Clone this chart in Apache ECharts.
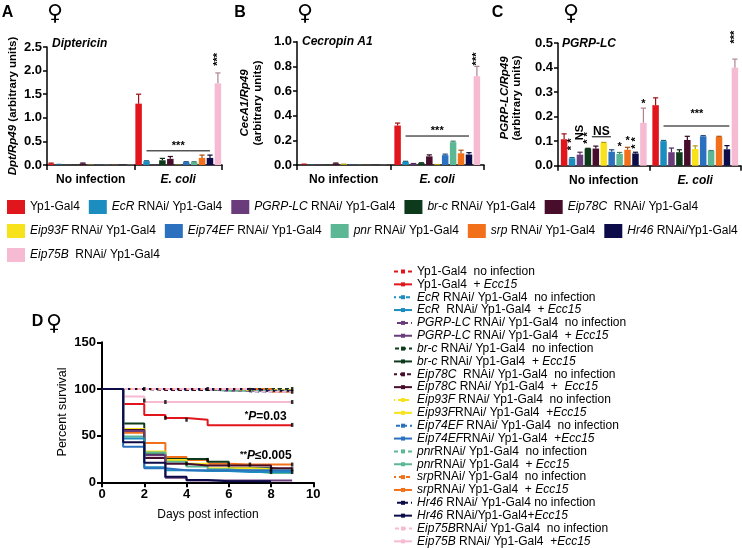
<!DOCTYPE html>
<html><head><meta charset="utf-8">
<script src="https://cdn.jsdelivr.net/npm/echarts@6.0.0/dist/echarts.min.js"></script>
<style>html,body{margin:0;padding:0;background:#fff;}#chart{width:742px;height:548px;}</style>
</head><body><div id="chart"></div>
<script>
// ================= DATA =================
const groups = ['No infection', 'E. coli'];
const genotypes = ['Yp1-Gal4','EcR RNAi/ Yp1-Gal4','PGRP-LC RNAi/ Yp1-Gal4','br-c RNAi/ Yp1-Gal4','Eip78C RNAi/ Yp1-Gal4','Eip93F RNAi/ Yp1-Gal4','Eip74EF RNAi/ Yp1-Gal4','pnr RNAi/ Yp1-Gal4','srp RNAi/ Yp1-Gal4','Hr46 RNAi/Yp1-Gal4','Eip75B RNAi/ Yp1-Gal4'];
const genotypeLabels = ['Yp1-Gal4','{i|EcR} RNAi/ Yp1-Gal4','{i|PGRP-LC} RNAi/ Yp1-Gal4','{i|br-c} RNAi/ Yp1-Gal4','{i|Eip78C}  RNAi/ Yp1-Gal4','{i|Eip93F} RNAi/ Yp1-Gal4','{i|Eip74EF} RNAi/ Yp1-Gal4','{i|pnr} RNAi/ Yp1-Gal4','{i|srp} RNAi/ Yp1-Gal4','{i|Hr46} RNAi/Yp1-Gal4','{i|Eip75B}  RNAi/ Yp1-Gal4'];
const colors = ['#e1161c','#1c8dbf','#6a3c7c','#0d3a1b','#470d2b','#f7e21b','#2b71bf','#5cb794','#f3701a','#0c0c4a','#f6bbd2'];

// Panel A: Diptericin (Dpt/Rp49)
const dptNoInf    = [0.03,0.01,0.005,0.005,0.03,0.005,0.005,0.005,0.005,0.005,0.005];
const dptNoInfErr = [0.01,0.003,0,0,0.012,0,0,0,0,0,0];
const dptEcoli    = [1.30,0.08,0.005,0.10,0.13,0.005,0.06,0.06,0.15,0.15,1.73];
const dptEcoliErr = [0.20,0.01,0,0.04,0.05,0,0.01,0.01,0.06,0.06,0.22];
// Panel B: Cecropin A1 (CecA1/Rp49)
const cecNoInf    = [0.005,0.002,0.002,0.002,0.012,0.005,0.003,0.002,0.001,0.001,0.001];
const cecNoInfErr = [0.002,0,0,0,0.004,0.002,0,0,0,0,0];
const cecEcoli    = [0.32,0.025,0.01,0.015,0.07,0.003,0.08,0.185,0.095,0.085,0.72];
const cecEcoliErr = [0.02,0.005,0.002,0.003,0.012,0.001,0.008,0.008,0.025,0.015,0.08];
// Panel C: PGRP-LC (PGRP-LC/Rp49)
const pgrpNoInf    = [0.108,0.03,0.045,0.07,0.07,0.093,0.057,0.048,0.065,0.05,0.175];
const pgrpNoInfErr = [0.022,0.003,0.01,0.001,0.01,0.002,0.008,0.006,0.01,0.005,0.06];
const pgrpEcoli    = [0.247,0.10,0.055,0.055,0.105,0.068,0.12,0.06,0.118,0.067,0.40];
const pgrpEcoliErr = [0.03,0.003,0.017,0.01,0.015,0.013,0.003,0.002,0.002,0.015,0.035];

// Panel D: survival (percent) at days 0..9
const survDays = [0,1,2,3,4,5,6,7,8,9];
const survNoInf = [
  [100,100,100,100,100,100,100,100,98,98],
  [100,100,100,99,99,99,99,99,99,99],
  [100,100,100,100,100,98,98,98,98,98],
  [100,100,100,100,100,100,100,100,100,100],
  [100,100,99,99,99,99,99,99,99,99],
  [100,100,100,100,100,100,99,99,99,99],
  [100,100,100,100,100,100,100,97,97,97],
  [100,100,100,100,100,98,98,98,98,98],
  [100,100,100,100,100,100,100,100,97,97],
  [100,100,100,100,100,100,100,98,98,98],
  [100,100,100,100,100,100,100,97,97,96]
];
const survInf = [
  [100,84,72,69,67,61,61,61,61,61],
  [100,47,16,13,12,12,11,11,11,11],
  [100,55,29,5,2,2,2,2,2,2],
  [100,63,30,25,25,22,15,15,13,13],
  [100,56,26,20,18,18,18,18,15,15],
  [100,57,33,24,20,15,15,14,14,14],
  [100,38,15,13,13,13,13,13,13,13],
  [100,49,32,22,17,14,12,10,10,10],
  [100,53,42,27,24,20,19,19,19,19],
  [100,43,21,6,2.5,1,1,1,1,null],
  [100,92,86,86,86,86,86,86,86,86]
];
const survLabels = [
  'Yp1-Gal4  no infection','Yp1-Gal4  + {i|Ecc15}',
  '{i|EcR} RNAi/ Yp1-Gal4  no infection','{i|EcR}  RNAi/ Yp1-Gal4  + {i|Ecc15}',
  '{i|PGRP-LC} RNAi/ Yp1-Gal4  no infection','{i|PGRP-LC} RNAi/ Yp1-Gal4  + {i|Ecc15}',
  '{i|br-c} RNAi/ Yp1-Gal4  no infection','{i|br-c} RNAi/ Yp1-Gal4  + {i|Ecc15}',
  '{i|Eip78C}  RNAi/ Yp1-Gal4  no infection','{i|Eip78C} RNAi/ Yp1-Gal4  +  {i|Ecc15}',
  '{i|Eip93F} RNAi/ Yp1-Gal4  no infection','{i|Eip93F}RNAi/ Yp1-Gal4  +{i|Ecc15}',
  '{i|Eip74EF} RNAi/ Yp1-Gal4  no infection','{i|Eip74EF}RNAi/ Yp1-Gal4  +{i|Ecc15}',
  '{i|pnr}RNAi/ Yp1-Gal4  no infection','{i|pnr}RNAi/ Yp1-Gal4  + {i|Ecc15}',
  '{i|srp}RNAi/ Yp1-Gal4  no infection','{i|srp}RNAi/ Yp1-Gal4  + {i|Ecc15}',
  '{i|Hr46} RNAi/ Yp1-Gal4 no infection','{i|Hr46} RNAi/Yp1-Gal4+{i|Ecc15}',
  '{i|Eip75B}RNAi/ Yp1-Gal4  no infection','{i|Eip75B} RNAi/ Yp1-Gal4  +{i|Ecc15}'
];
const censorPts = [[2,87.5],[3,86],[9,86],[3,69],[4,67],[9,61.5],[2,100],[5,100],[7,99],[9,100],[9,97],[9,19],[7,19],[6,19],[8,14],[8,11],[9,14],[9,11],[4,20],[5,24]];

// ================= HELPERS =================
const FONT = "'Liberation Sans', Arial, Helvetica, sans-serif";
const BW = 6.5, GAP = 0.22, PITCH = BW * (1 + GAP);
function darken(hex, f) {
  const n = parseInt(hex.slice(1), 16);
  const r = Math.round(((n >> 16) & 255) * f), g = Math.round(((n >> 8) & 255) * f), b = Math.round((n & 255) * f);
  return 'rgb(' + r + ',' + g + ',' + b + ')';
}
const richI = { i: { fontStyle: 'italic', fontSize: 12, fontFamily: FONT, color: '#000', lineHeight: 12 } };

const panels = [
  { grid: { left: 47, top: 47, width: 175, height: 118 }, max: 2.5, interval: 0.5,
    vals: [dptNoInf, dptEcoli], errs: [dptNoInfErr, dptEcoliErr],
    ann: [
      { t: 'line', g: 1, b1: 1, b2: 9, v: 0.30 },
      { t: 'text', g: 1, b: 5, v: 0.40, text: '***' },
      { t: 'text', g: 1, b: 10, v: 2.24, text: '***', rot: true }
    ] },
  { grid: { left: 297, top: 41.7, width: 187, height: 123.3 }, max: 1.0, interval: 0.2,
    vals: [cecNoInf, cecEcoli], errs: [cecNoInfErr, cecEcoliErr],
    ann: [
      { t: 'line', g: 1, b1: 1, b2: 9, v: 0.235 },
      { t: 'text', g: 1, b: 5, v: 0.275, text: '***' },
      { t: 'text', g: 1, b: 10, v: 0.86, text: '***', rot: true }
    ] },
  { grid: { left: 558, top: 43.2, width: 183, height: 122.5 }, max: 0.5, interval: 0.1,
    vals: [pgrpNoInf, pgrpEcoli], errs: [pgrpNoInfErr, pgrpEcoliErr],
    ann: [
      { t: 'line', g: 1, b1: 1, b2: 9.3, v: 0.162 },
      { t: 'text', g: 1, b: 5.2, v: 0.21, text: '***' },
      { t: 'text', g: 1, b: 10, v: 0.525, text: '***', rot: true },
      { t: 'text', g: 0, b: 1, v: 0.087, text: '* *', rot: true },
      { t: 'text', g: 0, b: 2, v: 0.135, text: 'NS', rot: true, font: 'bold 11px ' + FONT },
      { t: 'text', g: 0, b: 3, v: 0.113, text: '* *', rot: true },
      { t: 'line', g: 0, b1: 3.5, b2: 5.9, v: 0.118 },
      { t: 'text', g: 0, b: 4.7, v: 0.14, text: 'NS', font: 'bold 12px ' + FONT },
      { t: 'text', g: 0, b: 7, v: 0.075, text: '*' },
      { t: 'text', g: 0, b: 8, v: 0.1, text: '*' },
      { t: 'text', g: 0, b: 9, v: 0.093, text: '* *', rot: true },
      { t: 'text', g: 0, b: 10, v: 0.25, text: '*' }
    ] }
];

function annRender(list) {
  return function (params, api) {
    const children = [];
    list.forEach(a => {
      const base = api.coord([a.g, a.v]);
      if (a.t === 'line') {
        children.push({ type: 'line', shape: { x1: base[0] + (a.b1 - 5) * PITCH, y1: base[1], x2: base[0] + (a.b2 - 5) * PITCH, y2: base[1] },
          style: { stroke: '#000', lineWidth: 1 } });
      } else {
        children.push({ type: 'text', x: base[0] + (a.b - 5) * PITCH, y: base[1], rotation: a.rot ? Math.PI / 2 : 0,
          style: { text: a.text, fill: '#000', font: a.font || 'bold 11px ' + FONT, align: 'center', verticalAlign: 'middle' } });
      }
    });
    return { type: 'group', children };
  };
}

function errRender(params, api) {
  const g = api.value(0), i = api.value(1), v = api.value(2), e = api.value(3);
  if (!(e > 0)) return null;
  const b = api.coord([g, v]), t = api.coord([g, v + e]);
  const x = b[0] + (i - 5) * PITCH;
  const c = darken(colors[i], 0.7);
  return { type: 'group', children: [
    { type: 'line', shape: { x1: x, y1: b[1], x2: x, y2: t[1] }, style: { stroke: c, lineWidth: 1.2 } },
    { type: 'line', shape: { x1: x - 2.6, y1: t[1], x2: x + 2.6, y2: t[1] }, style: { stroke: c, lineWidth: 1.2 } }
  ] };
}

// ================= OPTION =================
const grid = [], xAxis = [], yAxis = [], series = [];
panels.forEach((p, k) => {
  grid.push(Object.assign({ outerBoundsMode: 'none', containLabel: false }, p.grid));
  xAxis.push({ type: 'category', gridIndex: k, data: groups, boundaryGap: true,
    axisLine: { show: true, lineStyle: { color: '#000', width: 1.5 } },
    axisTick: { show: true, length: 5, inside: false, alignWithLabel: false, lineStyle: { color: '#000', width: 1.5 } },
    axisLabel: { color: '#000', fontSize: 12, fontWeight: 'bold', fontFamily: FONT, margin: 9, interval: 0,
      formatter: v => v === 'E. coli' ? '{e|E. coli}' : v,
      rich: { e: { fontStyle: 'italic', fontWeight: 'bold', fontSize: 12, fontFamily: FONT, color: '#000' } } },
    splitLine: { show: false } });
  yAxis.push({ type: 'value', gridIndex: k, min: 0, max: p.max, interval: p.interval,
    axisLine: { show: true, lineStyle: { color: '#000', width: 1.5 } },
    axisTick: { show: true, length: 4, lineStyle: { color: '#000', width: 1.5 } },
    axisLabel: { color: '#000', fontSize: 13, fontWeight: 'bold', fontFamily: FONT, margin: 5, formatter: v => v.toFixed(1) },
    splitLine: { show: false } });
  genotypes.forEach((name, i) => {
    series.push({ type: 'bar', name, xAxisIndex: k, yAxisIndex: k, barWidth: BW, barGap: (GAP * 100) + '%',
      itemStyle: { color: colors[i] }, data: [p.vals[0][i], p.vals[1][i]], silent: true, animation: false });
  });
  const errData = [];
  [0, 1].forEach(g => genotypes.forEach((n, i) => errData.push([g, i, p.vals[g][i], p.errs[g][i]])));
  series.push({ type: 'custom', xAxisIndex: k, yAxisIndex: k, data: errData, encode: { x: 0, y: 2 }, renderItem: errRender, silent: true, z: 5, animation: false });
  series.push({ type: 'custom', xAxisIndex: k, yAxisIndex: k, data: [[0, 0]], encode: { x: 0, y: 1 }, renderItem: annRender(p.ann), silent: true, z: 6, clip: false, animation: false });
});

// survival grid
const SG = 3;
grid.push({ left: 102, top: 342.3, width: 211.3, height: 140, outerBoundsMode: 'none', containLabel: false });
xAxis.push({ type: 'value', gridIndex: SG, min: 0, max: 10, interval: 2,
  axisLine: { show: true, lineStyle: { color: '#000', width: 2 } },
  axisTick: { show: true, length: 5, lineStyle: { color: '#000', width: 2 } },
  axisLabel: { color: '#000', fontSize: 13, fontWeight: 'bold', fontFamily: FONT, margin: 6 },
  splitLine: { show: false } });
yAxis.push({ type: 'value', gridIndex: SG, min: 0, max: 150, interval: 50,
  axisLine: { show: true, lineStyle: { color: '#000', width: 2 } },
  axisTick: { show: true, length: 5, lineStyle: { color: '#000', width: 2 } },
  axisLabel: { color: '#000', fontSize: 13, fontWeight: 'bold', fontFamily: FONT, margin: 6 },
  splitLine: { show: false } });

const survNames = [];
genotypes.forEach((g, i) => { survNames.push('ni_' + i); survNames.push('inf_' + i); });
const survLabelMap = {};
survNames.forEach((n, k) => survLabelMap[n] = survLabels[k]);

// no-infection dashed lines first
genotypes.forEach((g, i) => {
  series.push({ type: 'line', name: 'ni_' + i, xAxisIndex: SG, yAxisIndex: SG, step: 'end', showSymbol: false,
    symbol: 'rect', symbolSize: 3, color: colors[i],
    lineStyle: { color: colors[i], width: 2, type: [4, 3], dashOffset: i * 2 },
    data: survDays.map((d, j) => [d, survNoInf[i][j]]), silent: true, animation: false, z: 2 });
});
// infected solid lines (Hr46 drawn last)
const infOrder = [10, 0, 8, 3, 5, 7, 4, 2, 1, 6, 9];
infOrder.forEach((i, o) => {
  series.push({ type: 'line', name: 'inf_' + i, xAxisIndex: SG, yAxisIndex: SG, step: 'end', showSymbol: false,
    symbol: 'rect', symbolSize: 3, color: colors[i],
    lineStyle: { color: colors[i], width: 2, type: 'solid' },
    data: survDays.map((d, j) => [d, survInf[i][j]]).filter(p => p[1] !== null), silent: true, animation: false, z: 3 + o * 0.01 });
});
series.push({ type: 'scatter', xAxisIndex: SG, yAxisIndex: SG, symbol: 'rect', symbolSize: [2.5, 4], itemStyle: { color: '#000' },
  data: censorPts, silent: true, animation: false, z: 4 });
series.push({ type: 'custom', xAxisIndex: SG, yAxisIndex: SG, data: [[0, 0]], silent: true, z: 6, animation: false,
  renderItem: function (params, api) {
    const p1 = api.coord([7.75, 70.5]), p2 = api.coord([7.75, 28.5]);
    const rich = { s: { fontSize: 9, fontWeight: 'bold', fontFamily: FONT, verticalAlign: 'top' }, i: { fontStyle: 'italic', fontWeight: 'bold', fontSize: 12, fontFamily: FONT } };
    return { type: 'group', children: [
      { type: 'text', x: p1[0], y: p1[1], style: { text: '{s|*}{i|P}=0.03', rich, fill: '#000', font: 'bold 12px ' + FONT, align: 'center', verticalAlign: 'middle' } },
      { type: 'text', x: p2[0], y: p2[1], style: { text: '{s|**}{i|P}≤0.005', rich, fill: '#000', font: 'bold 12px ' + FONT, align: 'center', verticalAlign: 'middle' } }
    ] };
  } });

const barLabelMap = {};
genotypes.forEach((n, i) => barLabelMap[n] = genotypeLabels[i]);
function barLegend(names, top) {
  return { show: true, left: 7, top, orient: 'horizontal', itemWidth: 18, itemHeight: 14, itemGap: 9, icon: 'rect',
    selectedMode: false, data: names, padding: 0,
    formatter: n => barLabelMap[n],
    textStyle: { color: '#000', fontSize: 12, fontFamily: FONT, padding: [0, 0, 0, 0], rich: richI } };
}

const legend = [
  barLegend(genotypes.slice(0, 5), 200),
  barLegend(genotypes.slice(5, 10), 224),
  barLegend(genotypes.slice(10), 248),
  { show: true, left: 393, top: 265.5, orient: 'vertical', itemWidth: 18, itemHeight: 5, itemGap: 0.85, padding: 0,
    selectedMode: false, data: survNames, formatter: n => survLabelMap[n],
    textStyle: { color: '#000', fontSize: 12, lineHeight: 12, fontFamily: FONT, rich: richI } }
];

function txt(x, y, text, font, opts) {
  return Object.assign({ type: 'text', x, y, style: Object.assign({ text, font, fill: '#000', align: 'center', verticalAlign: 'middle' }, (opts && opts.style) || {}) }, (opts && opts.el) || {});
}
const rot = { el: { rotation: Math.PI / 2 } };
const titleRich = { it: { fontStyle: 'italic', fontWeight: 'bold', fontSize: 11.5, fontFamily: FONT }, n: { fontWeight: 'bold', fontSize: 11.5, fontFamily: FONT } };
const graphic = [
  txt(7.5, 13, 'A', 'bold 16px ' + FONT), txt(55, 14, '♀', '22px DejaVu Sans'),
  txt(240, 13, 'B', 'bold 16px ' + FONT), txt(305, 14, '♀', '22px DejaVu Sans'),
  txt(497.5, 13, 'C', 'bold 16px ' + FONT), txt(571, 14, '♀', '22px DejaVu Sans'),
  txt(37.5, 322, 'D', 'bold 16px ' + FONT), txt(54, 324, '♀', '22px DejaVu Sans'),
  txt(13, 106, '{it|Dpt/Rp49} {n|(arbitrary units)}', 'bold 11.5px ' + FONT, { el: { rotation: Math.PI / 2 }, style: { rich: titleRich } }),
  txt(245, 103, '{it|CecA1/Rp49}', 'bold 11.5px ' + FONT, { el: { rotation: Math.PI / 2 }, style: { rich: titleRich } }),
  txt(258, 103, '(arbitrary units)', 'bold 11.5px ' + FONT, rot),
  txt(505, 98, '{it|PGRP-LC/Rp49}', 'bold 11.5px ' + FONT, { el: { rotation: Math.PI / 2 }, style: { rich: titleRich } }),
  txt(517, 98, '(arbitrary units)', 'bold 11.5px ' + FONT, rot),
  txt(52, 44, 'Diptericin', 'italic bold 12px ' + FONT, { style: { align: 'left' } }),
  txt(302, 42, 'Cecropin A1', 'italic bold 12px ' + FONT, { style: { align: 'left' } }),
  txt(562, 44, 'PGRP-LC', 'italic bold 12px ' + FONT, { style: { align: 'left' } }),
  txt(63, 412, 'Percent survival', '12.5px ' + FONT, rot),
  txt(208, 515, 'Days post infection', '12px ' + FONT)
];

const chart = echarts.init(document.getElementById('chart'), null, { renderer: 'canvas', width: 742, height: 548 });
chart.setOption({ animation: false, backgroundColor: '#fff', grid, xAxis, yAxis, series, legend, graphic, tooltip: { show: false } });
</script></body></html>
